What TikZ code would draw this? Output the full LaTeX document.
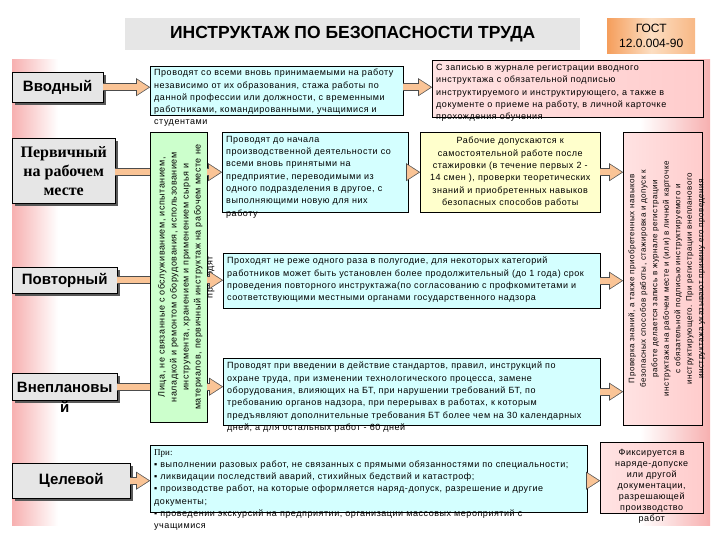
\documentclass[tikz,border=0pt]{standalone}
\usepackage{fontspec}
\setmainfont{Liberation Sans}
\newfontfamily\serifbold{Liberation Serif}
\newfontfamily\spaced[LetterSpace=6]{Liberation Sans}
\usetikzlibrary{arrows.meta,shadows}

\definecolor{cyanbox}{RGB}{212,255,255}
\definecolor{yellowbox}{RGB}{255,255,204}
\definecolor{greenbox}{RGB}{204,255,204}
\definecolor{pinkbox}{RGB}{255,204,204}
\definecolor{pinkstrip}{RGB}{247,176,176}
\definecolor{graybox}{RGB}{230,230,230}
\definecolor{peach}{RGB}{250,196,150}
\definecolor{gostorange}{RGB}{245,158,92}
\definecolor{gostlight}{RGB}{252,222,194}

\tikzset{
  kind/.style={draw=black, fill=graybox, inner sep=0pt, anchor=north west, align=center,
    font=\fontsize{15}{20}\selectfont\bfseries,
    drop shadow={shadow xshift=2.5pt, shadow yshift=-2.5pt, fill=black!65, opacity=1}},
  cbox/.style={draw=black, fill=cyanbox, inner sep=0pt, anchor=north west},
  pbox/.style={draw=black, left color=pinkbox!55!white, right color=pinkbox, inner sep=0pt, anchor=north west},
  body/.style={inner sep=0pt, anchor=north west, align=left, font=\spaced\fontsize{9}{12.3}\selectfont},
  fatline/.style={draw=peach, line width=6.4pt,
    preaction={draw=black!70, line width=8pt}},
  fat/.style={draw=peach, line width=6.4pt, shorten >=1.4pt,
    -{Triangle[length=11.5pt,width=15pt,line width=0.1pt]},
    preaction={draw=black!70, line width=8pt, shorten >=0pt,
      -{Triangle[length=14pt,width=18pt,line width=0.1pt]}}}
}

\begin{document}
\begin{tikzpicture}[x=1pt,y=-1pt]
  \useasboundingbox (0,0) rectangle (720,540);

  % pink strips behind the columns
  \shade[left color=pinkstrip, right color=white] (12,60) rectangle (58,525);
  \shade[left color=white, right color=pinkstrip] (640,60) rectangle (710,525);

  % Title and standard
  \node[fill=graybox, minimum width=455, minimum height=32, anchor=north west, inner sep=0pt,
    font=\fontsize{17.5}{20}\selectfont\bfseries] (title) at (125,18) {ИНСТРУКТАЖ ПО БЕЗОПАСНОСТИ ТРУДА};
  \node[left color=gostorange, right color=gostorange!60!gostlight, middle color=gostlight,
    minimum width=88, minimum height=35, anchor=north west, inner sep=0pt, align=center,
    font=\fontsize{12}{15}\selectfont] (gost) at (607,18) {ГОСТ\\12.0.004-90};

  % Kinds of briefing
  \node[kind, minimum width=91, minimum height=30] (vvodL) at (12,72) {Вводный};
  \node[kind, minimum width=103, minimum height=65, font=\serifbold\fontsize{16}{19}\selectfont\bfseries] (pervL) at (12,138) {Первичный\\на рабочем\\месте};
  \node[kind, minimum width=105, minimum height=26] (povtL) at (12,267) {Повторный};
  \node[kind, minimum width=105, minimum height=27] (vnepL) at (12,373) {};
  \node[align=center, inner sep=0pt, font=\fontsize{15}{20}\selectfont\bfseries] (vnepN) at ([yshift=-10.5]vnepL.center) {Внеплановы\\й};
  \node[kind, minimum width=118, minimum height=35] (celL) at (12,463) {Целевой};

  % Vvodny row
  \node[cbox, minimum width=253, minimum height=49] (vvodT) at (150,66) {};
  \node[body] (vvodTx) at ([xshift=4,yshift=-3]vvodT.north west) {Проводят со всеми вновь принимаемыми на работу\\независимо от их образования, стажа работы по\\данной профессии или должности, с временными\\работниками, командированными, учащимися и\\студентами};
  \node[pbox, minimum width=271, minimum height=57] (vvodP) at (432,60) {};
  \node[body] (vvodPx) at ([xshift=4,yshift=-4]vvodP.north west) {С записью в журнале регистрации вводного\\инструктажа с обязательной подписью\\инструктируемого и инструктирующего, а также в\\документе о приеме на работу, в личной карточке\\прохождения обучения};

  % Green column
  \node[draw=black, fill=greenbox, minimum width=57, minimum height=290, anchor=north west, inner sep=0pt] (green) at (150,132) {};
  \node[rotate=90, align=center, inner sep=0pt, font=\spaced\fontsize{9}{12}\selectfont] (greenx) at ([xshift=7.5]green.center) {Лица, не связанные с обслуживанием, испытанием,\\наладкой и ремонтом оборудования, использованием\\инструмента, хранением и применением сырья и\\материалов, первичный инструктаж на рабочем месте не\\проходят};

  % Pervichny row
  \node[cbox, minimum width=186, minimum height=80] (pervT) at (222,132) {};
  \node[body] (pervTx) at ([xshift=4,yshift=-4]pervT.north west) {Проводят до начала\\производственной деятельности со\\всеми вновь принятыми на\\предприятие, переводимыми из\\одного подразделения в другое, с\\выполняющими новую для них\\работу};
  \node[draw=black, fill=yellowbox, minimum width=180, minimum height=80, anchor=north west, inner sep=0pt,
    align=center, font=\spaced\fontsize{9}{12.3}\selectfont] (pervY) at (420,132) {Рабочие допускаются к\\самостоятельной работе после\\стажировки (в течение первых 2 -\\14 смен ), проверки теоретических\\знаний и приобретенных навыков\\безопасных способов работы};

  % Right column
  \node[pbox, minimum width=79, minimum height=293] (check) at (623,132) {};
  \node[rotate=90, align=center, inner sep=0pt, font=\spaced\fontsize{8}{11.5}\selectfont] (checkx) at ([xshift=4]check.center) {Проверка знаний, а также приобретенных навыков\\безопасных способов работы, стажировка и допуск к\\работе делается запись в журнале регистрации\\инструктажа на рабочем месте и (или) в личной карточке\\с обязательной подписью инструктируемого и\\инструктирующего. При регистрации внепланового\\инструктажа указывают причину его проведения};

  % Povtorny row
  \node[cbox, minimum width=377, minimum height=55] (povtT) at (223,253) {};
  \node[body] (povtTx) at ([xshift=4,yshift=-4]povtT.north west) {Проходят не реже одного раза в полугодие, для некоторых категорий\\работников может быть установлен более продолжительный (до 1 года) срок\\проведения повторного инструктажа(по согласованию с профкомитетами и\\соответствующими местными органами государственного надзора};

  % Vneplanovy row
  \node[cbox, minimum width=377, minimum height=67] (vnepT) at (223,358) {};
  \node[body] (vnepTx) at ([xshift=4,yshift=-4]vnepT.north west) {Проводят при введении в действие стандартов, правил, инструкций по\\охране труда, при изменении технологического процесса, замене\\оборудования, влияющих на БТ, при нарушении требований БТ, по\\требованию органов надзора, при перерывах в работах, к которым\\предъявляют дополнительные требования БТ более чем на 30 календарных\\дней, а для остальных работ - 60 дней};

  % Celevoy row
  \node[cbox, minimum width=437, minimum height=67] (celT) at (150,445) {};
  \node[body] (celTx) at ([xshift=4,yshift=-4]celT.north west) {{\serifbold При:}\\▪ выполнении разовых работ, не связанных с прямыми обязанностями по специальности;\\▪ ликвидации последствий аварий, стихийных бедствий и катастроф;\\▪ производстве работ, на которые оформляется наряд-допуск, разрешение и другие\\документы;\\▪ проведении экскурсий на предприятии, организации массовых мероприятий с\\учащимися};
  \node[pbox, minimum width=103, minimum height=71] (fix) at (600,442) {};
  \node[align=center, inner sep=0pt, font=\spaced\fontsize{9}{11}\selectfont] (fixx) at ([yshift=-9]fix.center) {Фиксируется в\\наряде-допуске\\или другой\\документации,\\разрешающей\\производство\\работ};

  % Connect nodes
  \draw[fat] (vvodL.east) -- (vvodL.east -| vvodT.west);
  \draw[fat] (vvodT.east |- vvodL.east) -- (vvodP.west |- vvodL.east);
  \draw[fatline] (pervL.east |- pervT.west) -- (green.west |- pervT.west);
  \draw[fat] (green.east |- pervT.west) -- (pervT.west);
  \draw[fat] (pervT.east) -- (pervY.west);
  \draw[fat] (pervY.east) -- (pervY.east -| check.west);
  \draw[fatline] (povtL.east) -- (povtL.east -| green.west);
  \draw[fat] (green.east |- povtL.east) -- (povtT.west |- povtL.east);
  \draw[fat] (povtT.east) -- (povtT.east -| check.west);
  \draw[fatline] (vnepL.east) -- (vnepL.east -| green.west);
  \draw[fat] (green.east |- vnepL.east) -- (vnepT.west |- vnepL.east);
  \draw[fat] (vnepT.east) -- (vnepT.east -| check.west);
  \draw[fat] (celL.east) -- (celL.east -| celT.west);
  \draw[fat] (celT.east |- celL.east) -- (fix.west |- celL.east);
\end{tikzpicture}
\end{document}
